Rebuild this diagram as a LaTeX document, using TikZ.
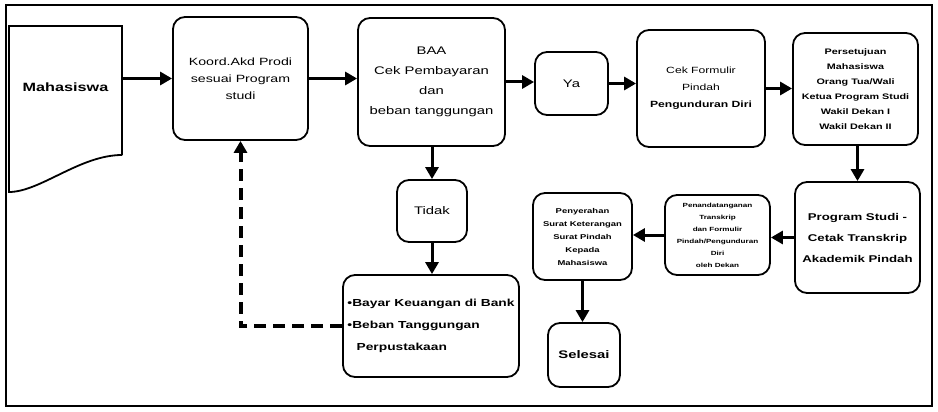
\documentclass[tikz,border=0pt]{standalone}
\usepackage{fontspec}
\setmainfont[FakeStretch=1.35]{Liberation Sans}
\usetikzlibrary{arrows.meta}
\begin{document}
\begin{tikzpicture}[x=1pt,y=-1pt,
  box/.style={draw, line width=1.8pt, rounded corners=12pt, align=center, inner sep=0pt},
  arr/.style={line width=3pt, -{Triangle[length=12pt,width=13pt]}},
  dsh/.style={line width=4pt, dash pattern=on 12pt off 7pt, -{Triangle[length=12pt,width=13pt]}}]
\useasboundingbox (0,0) rectangle (938,412);
\draw[line width=1.5pt] (6,5) rectangle (932,406);
% document shape
\draw[line width=1.8pt] (122,155) -- (122,26) -- (9,26) -- (9,192) .. controls (40,192) and (80,155) .. (122,155);
\node[inner sep=0pt, minimum width=113pt, minimum height=122pt, font=\bfseries\fontsize{12}{14}\selectfont] (mhs) at (65.5,87) {Mahasiswa};
\node[box, minimum width=135pt, minimum height=123pt, font=\fontsize{10.5}{17}\selectfont] (kons) at (240.5,78.5) {Koord.Akd Prodi\\sesuai Program\\studi};
\node[box, minimum width=147pt, minimum height=128pt, font=\fontsize{11}{20}\selectfont] (baa) at (431.5,82) {BAA\\Cek Pembayaran\\dan\\beban tanggungan};
\node[box, minimum width=73pt, minimum height=63pt, font=\fontsize{11}{13}\selectfont] (ya) at (571.5,83.5) {Ya};
\node[box, minimum width=128pt, minimum height=117pt, font=\fontsize{9}{17}\selectfont] (cek) at (701,88.5) {Cek Formulir\\Pindah\\\textbf{Pengunduran Diri}};
\node[box, minimum width=125pt, minimum height=112pt, font=\bfseries\fontsize{8}{15}\selectfont] (pers) at (855.5,89) {Persetujuan\\Mahasiswa\\Orang Tua/Wali\\Ketua Program Studi\\Wakil Dekan I\\Wakil Dekan II};
\node[box, minimum width=125pt, minimum height=111pt, font=\bfseries\fontsize{9.8}{21}\selectfont] (prodi) at (857.5,237.5) {Program Studi -\\Cetak Transkrip\\Akademik Pindah};
\node[box, minimum width=105pt, minimum height=80pt, font=\bfseries\fontsize{6}{12}\selectfont] (ttd) at (717.5,235) {Penandatanganan\\Transkrip\\dan Formulir\\Pindah/Pengunduran\\Diri\\oleh Dekan};
\node[box, minimum width=99pt, minimum height=87pt, font=\bfseries\fontsize{7}{13}\selectfont] (srt) at (582.5,236.5) {Penyerahan\\Surat Keterangan\\Surat Pindah\\Kepada\\Mahasiswa};
\node[box, minimum width=72pt, minimum height=64pt, font=\bfseries\fontsize{11}{13}\selectfont] (sel) at (584,355) {Selesai};
\node[box, minimum width=70pt, minimum height=62pt, font=\fontsize{11}{13}\selectfont] (tidak) at (432,211) {Tidak};
\node[box, minimum width=176pt, minimum height=102pt, align=left, font=\bfseries\fontsize{10.2}{22}\selectfont] (bayar) at (431,326) {•Bayar Keuangan di Bank\\•Beban Tanggungan\\\hspace*{0.9em}Perpustakaan};
% connectors
\draw[arr] (mhs.east |- kons.west) -- (kons.west);
\draw[arr] (kons.east) -- (baa.west |- kons.east);
\draw[arr] (baa.east) -- (ya.west |- baa.east);
\draw[arr] (ya.east) -- (cek.west |- ya.east);
\draw[arr] (cek.east) -- (pers.west |- cek.east);
\draw[arr] (pers.south -| prodi.north) -- (prodi.north);
\draw[arr] (prodi.west) -- (ttd.east |- prodi.west);
\draw[arr] (ttd.west) -- (srt.east |- ttd.west);
\draw[arr] (srt.south) -- (sel.north -| srt.south);
\draw[arr] (baa.south -| tidak.north) -- (tidak.north);
\draw[arr] (tidak.south) -- (bayar.north -| tidak.south);
\draw[dsh] (bayar.west) -| (kons.south);
\end{tikzpicture}
\end{document}
